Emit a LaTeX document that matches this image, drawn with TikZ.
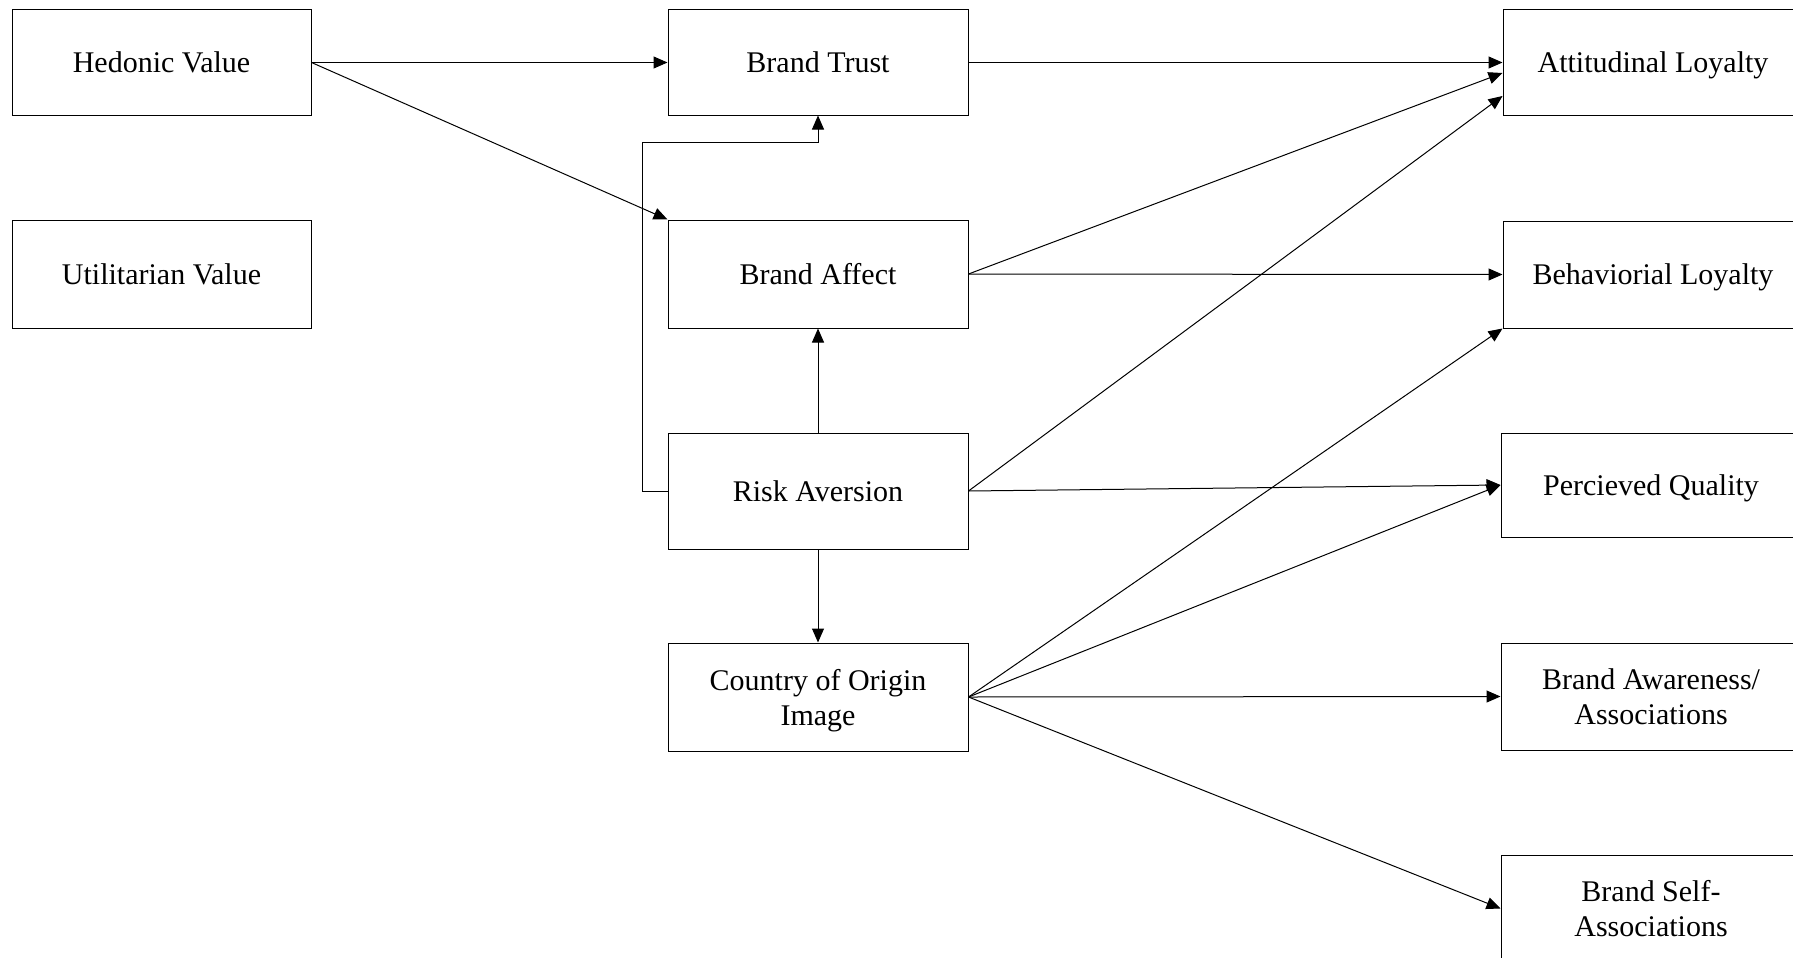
\documentclass[tikz,border=0pt]{standalone}
\usepackage{fontspec}
\setmainfont{Liberation Serif}
\usetikzlibrary{arrows.meta,calc}
\begin{document}
\begin{tikzpicture}[x=1pt,y=-1pt,
  box/.style={draw=black,line width=1pt,minimum width=299pt,inner sep=0pt,align=center,
    text depth=0pt,font=\fontsize{30}{35}\selectfont},
  arr/.style={line width=1pt,-{Triangle[length=14pt,width=12pt]}}]
\useasboundingbox (0,0) rectangle (1793,958);
\clip (0,0) rectangle (1793,958);
\fill[white] (0,0) rectangle (1793,958);
% left column
\node[box,minimum height=105pt] (hed) at (161.5,62.5) {Hedonic Value};
\node[box,minimum height=108pt] (util) at (161.5,274) {Utilitarian Value};
% middle column
\node[box,minimum height=105pt,minimum width=300pt] (trust) at (818,62.5) {Brand Trust};
\node[box,minimum height=108pt,minimum width=300pt] (affect) at (818,274) {Brand Affect};
\node[box,minimum height=116pt,minimum width=300pt] (risk) at (818,491) {Risk Aversion};
\node[box,minimum height=108pt,minimum width=300pt] (coo) at (818,697) {Country of Origin\\Image};
% right column
\node[box,minimum height=105pt,minimum width=300pt] (att) at (1653,62.5) {Attitudinal Loyalty};
\node[box,minimum height=107pt,minimum width=300pt] (beh) at (1653,274.5) {Behaviorial Loyalty};
\node[box,minimum height=104pt,minimum width=300pt] (pq) at (1651,485) {Percieved Quality};
\node[box,minimum height=107pt,minimum width=300pt] (baw) at (1651,696.5) {Brand Awareness/\\Associations};
\node[box,minimum height=107pt,minimum width=300pt] (bsa) at (1651,908.5) {Brand Self-\\Associations};
\coordinate (bend) at (642,142);
% connectors
\draw[arr] (hed.east) -- (trust.west);
\draw[arr] (hed.east) -- (affect.north west);
\draw[arr] (trust.east) -- (att.west);
\draw[arr] (affect.east) -- ($(att.west)+(0,10.5)$);
\draw[arr] (affect.east) -- (beh.west);
\draw[arr] (risk.east) -- ($(att.west)+(0,33.5)$);
\draw[arr] (risk.east) -- (pq.west);
\draw[arr] (risk.north) -- (affect.south);
\draw[arr] (risk.south) -- (coo.north);
\draw[arr] (risk.west) -| (bend) -| (trust.south);
\draw[arr] (coo.east) -- (beh.south west);
\draw[arr] (coo.east) -- (pq.west);
\draw[arr] (coo.east) -- (baw.west);
\draw[arr] (coo.east) -- (bsa.west);
\end{tikzpicture}
\end{document}
